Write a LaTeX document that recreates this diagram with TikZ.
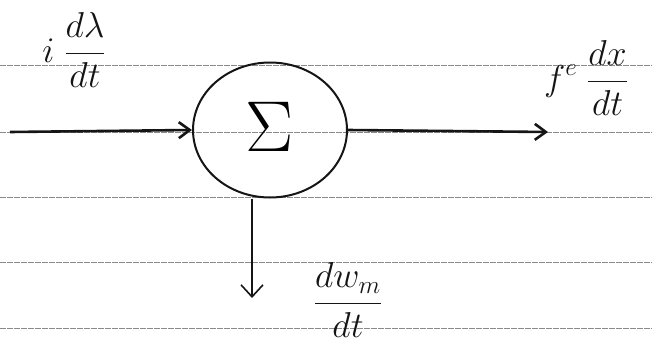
\RequirePackage{fix-cm}
\documentclass[tikz,border=0pt]{standalone}
\usetikzlibrary{arrows.meta, positioning, shapes.geometric}
\definecolor{cink}{HTML}{151515}
\definecolor{crule}{HTML}{8A8A8A}
\tikzset{
  every picture/.style={line width=2pt},
  rule/.style={draw=crule, line width=0.6pt, dash pattern=on 6pt off 1pt},
  flow/.style={-{Straight Barb[length=11pt, width=16pt]}, draw=cink, line width=2.6pt},
  drop/.style={-{Straight Barb[length=12pt, width=22pt]}, draw=cink, line width=1.6pt},
  sumbox/.style={ellipse, draw=cink, line width=2pt, minimum width=154pt, minimum height=135pt, inner sep=0pt},
  lbl/.style={text=cink, font=\fontsize{36}{40}\selectfont},
}
\begin{document}
\begin{tikzpicture}[x=1pt, y=-1pt]
  \useasboundingbox (0,0) rectangle (652,353);
  % ruled paper
  \foreach \y in {65,132,197,262,328}
    \draw[rule] (0,\y) -- (652,\y);
  % summing junction
  \node[sumbox] (sum) at (270,130) {\raisebox{6pt}{\fontsize{72}{76}\selectfont$\Sigma$}};
  \coordinate (in) at (10,132);
  \coordinate (out) at (548,132);
  \coordinate (loss) at (252,298);
  \draw[flow] (in) -- (sum.west);
  \draw[flow] (sum.east) -- (out);
  \draw[drop] (sum.south -| loss) -- (loss);
  % power terms
  \node[lbl] (pin) at (74,50) {$\displaystyle i\;\frac{d\lambda}{dt}$};
  \node[lbl] (pout) at (586,78) {$\displaystyle f^{e}\;\frac{dx}{dt}$};
  \node[lbl] (pmag) at (348,300) {$\displaystyle\frac{dw_m}{dt}$};
\end{tikzpicture}
\end{document}
